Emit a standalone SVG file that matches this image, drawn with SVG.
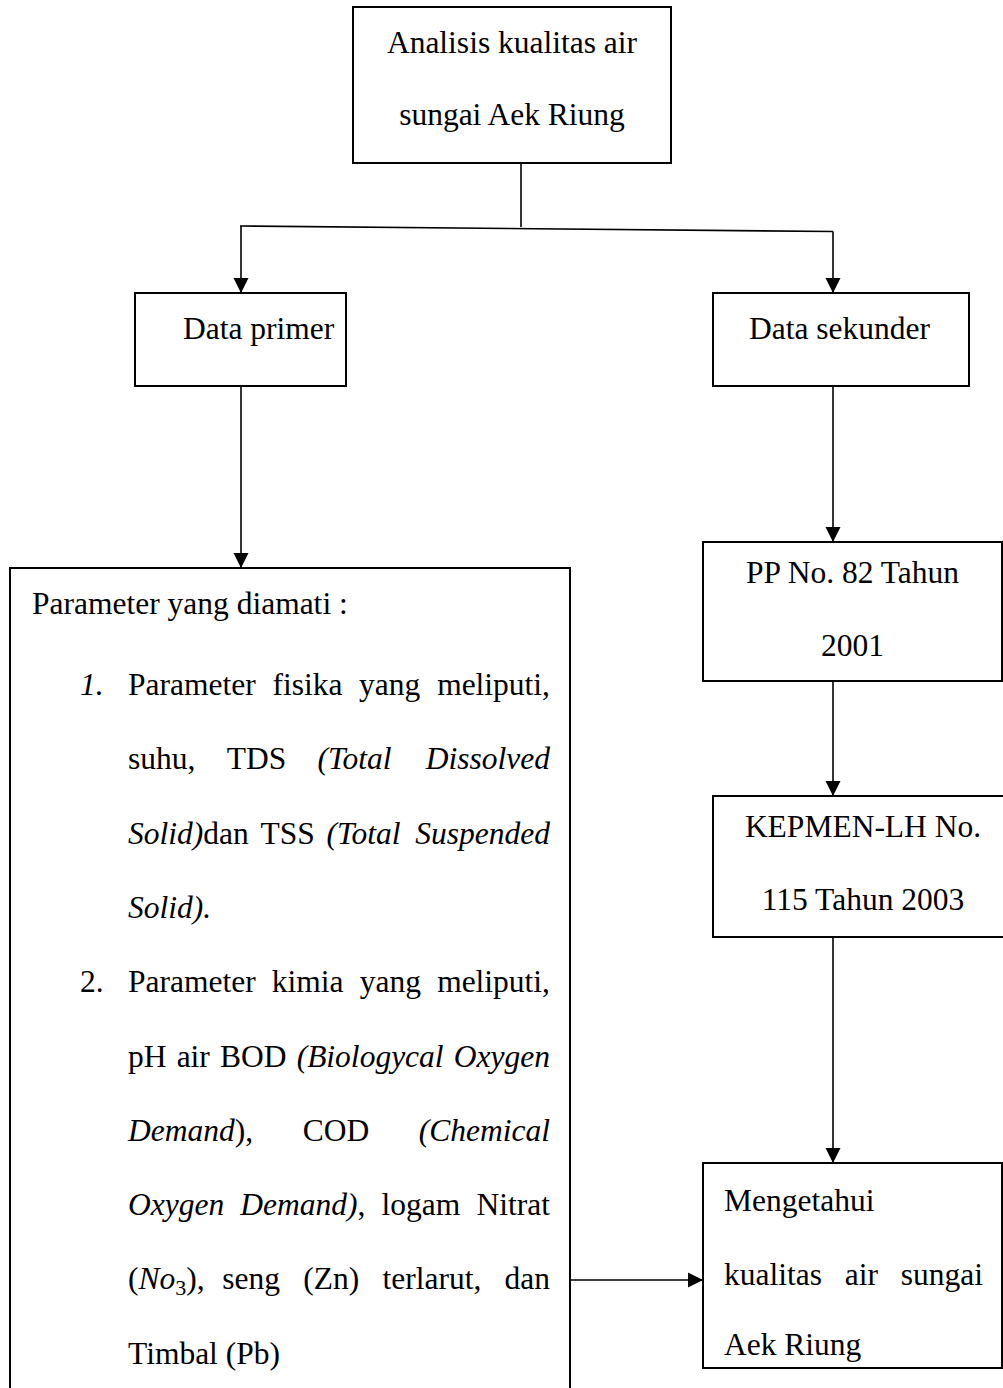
<svg xmlns="http://www.w3.org/2000/svg" width="1003" height="1388" viewBox="0 0 1003 1388">
<style>
  text { font-family: "Liberation Serif", "Times New Roman", serif; font-size: 31.5px; fill: #000; }
  .i { font-style: italic; }
  .box { fill: #fff; stroke: #000; stroke-width: 2; }
  .conn { fill: none; stroke: #000; stroke-width: 1.6; }
  .mid { text-anchor: middle; }
  .end { text-anchor: end; }
</style>
<defs>
  <marker id="arr" markerUnits="userSpaceOnUse" markerWidth="16" markerHeight="16" refX="15" refY="8" orient="auto">
    <path d="M0,0.5 L15,8 L0,15.5 Z" fill="#000"/>
  </marker>
</defs>
<rect width="1003" height="1388" fill="#fff"/>

<g id="connectors">
  <line class="conn" x1="521" y1="163" x2="521" y2="227"/>
  <line class="conn" x1="240" y1="226" x2="833" y2="231.5"/>
  <line class="conn" x1="241" y1="226" x2="241" y2="293" marker-end="url(#arr)"/>
  <line class="conn" x1="833" y1="231.5" x2="833" y2="293" marker-end="url(#arr)"/>
  <line class="conn" x1="241" y1="386" x2="241" y2="568" marker-end="url(#arr)"/>
  <line class="conn" x1="833" y1="386" x2="833" y2="542" marker-end="url(#arr)"/>
  <line class="conn" x1="833" y1="681" x2="833" y2="796" marker-end="url(#arr)"/>
  <line class="conn" x1="833" y1="937" x2="833" y2="1163" marker-end="url(#arr)"/>
  <line class="conn" x1="570" y1="1280" x2="703" y2="1280" marker-end="url(#arr)"/>
</g>

<g id="node-analisis">
  <rect class="box" x="353" y="7" width="318" height="156"/>
  <text class="mid" x="512" y="53">Analisis kualitas air</text>
  <text class="mid" x="512" y="125">sungai Aek Riung</text>
</g>

<g id="node-primer">
  <rect class="box" x="135" y="293" width="211" height="93"/>
  <text x="183" y="339">Data primer</text>
</g>

<g id="node-sekunder">
  <rect class="box" x="713" y="293" width="256" height="93"/>
  <text x="749" y="339">Data sekunder</text>
</g>

<g id="node-pp">
  <rect class="box" x="703" y="542" width="299" height="139"/>
  <text class="mid" x="852.5" y="583">PP No. 82 Tahun</text>
  <text class="mid" x="852.5" y="656">2001</text>
</g>

<g id="node-kepmen">
  <rect class="box" x="713" y="796" width="300" height="141"/>
  <text class="mid" x="863" y="837">KEPMEN-LH No.</text>
  <text class="mid" x="863" y="910">115 Tahun 2003</text>
</g>

<g id="node-mengetahui">
  <rect class="box" x="703" y="1163" width="299" height="205"/>
  <text x="724" y="1211">Mengetahui</text>
  <text x="724" y="1285">kualitas</text>
  <text x="844.8" y="1285">air</text>
  <text class="end" x="983" y="1285">sungai</text>
  <text x="724" y="1355">Aek Riung</text>
</g>

<g id="node-parameter">
  <rect class="box" x="10" y="568" width="560" height="830"/>
  <text x="32" y="614">Parameter yang diamati :</text>

  <text class="i" x="80" y="695">1.</text>
  <text x="128" y="695">Parameter</text>
  <text x="272.4" y="695">fisika</text>
  <text x="359.1" y="695">yang</text>
  <text class="end" x="550" y="695">meliputi,</text>

  <text x="128" y="769.3">suhu,</text>
  <text x="226.7" y="769.3">TDS</text>
  <text class="i" x="317.5" y="769.3">(Total</text>
  <text class="i end" x="550" y="769.3">Dissolved</text>

  <text x="128" y="843.6"><tspan class="i">Solid)</tspan>dan</text>
  <text x="260.5" y="843.6">TSS</text>
  <text class="i" x="326.5" y="843.6">(Total</text>
  <text class="i end" x="550" y="843.6">Suspended</text>

  <text class="i" x="128" y="917.9">Solid).</text>

  <text x="80" y="992.2">2.</text>
  <text x="128" y="992.2">Parameter</text>
  <text x="271.8" y="992.2">kimia</text>
  <text x="359.7" y="992.2">yang</text>
  <text class="end" x="550" y="992.2">meliputi,</text>

  <text x="128" y="1066.5">pH</text>
  <text x="176.65" y="1066.5">air</text>
  <text x="220" y="1066.5">BOD</text>
  <text class="i" x="296.65" y="1066.5">(Biologycal</text>
  <text class="i end" x="550" y="1066.5">Oxygen</text>

  <text x="128" y="1140.8"><tspan class="i">Demand</tspan>),</text>
  <text x="302.7" y="1140.8">COD</text>
  <text class="i end" x="550" y="1140.8">(Chemical</text>

  <text class="i" x="128" y="1215.1">Oxygen</text>
  <text x="240.35" y="1215.1"><tspan class="i">Demand)</tspan>,</text>
  <text x="381.6" y="1215.1">logam</text>
  <text class="end" x="550" y="1215.1">Nitrat</text>

  <text x="128" y="1289.4">(<tspan class="i">No</tspan><tspan font-size="22" dy="6">3</tspan><tspan dy="-6">),</tspan></text>
  <text x="222.25" y="1289.4">seng</text>
  <text x="303.2" y="1289.4">(Zn)</text>
  <text x="382.45" y="1289.4">terlarut,</text>
  <text class="end" x="550" y="1289.4">dan</text>

  <text x="128" y="1363.7">Timbal (Pb)</text>
</g>
</svg>
